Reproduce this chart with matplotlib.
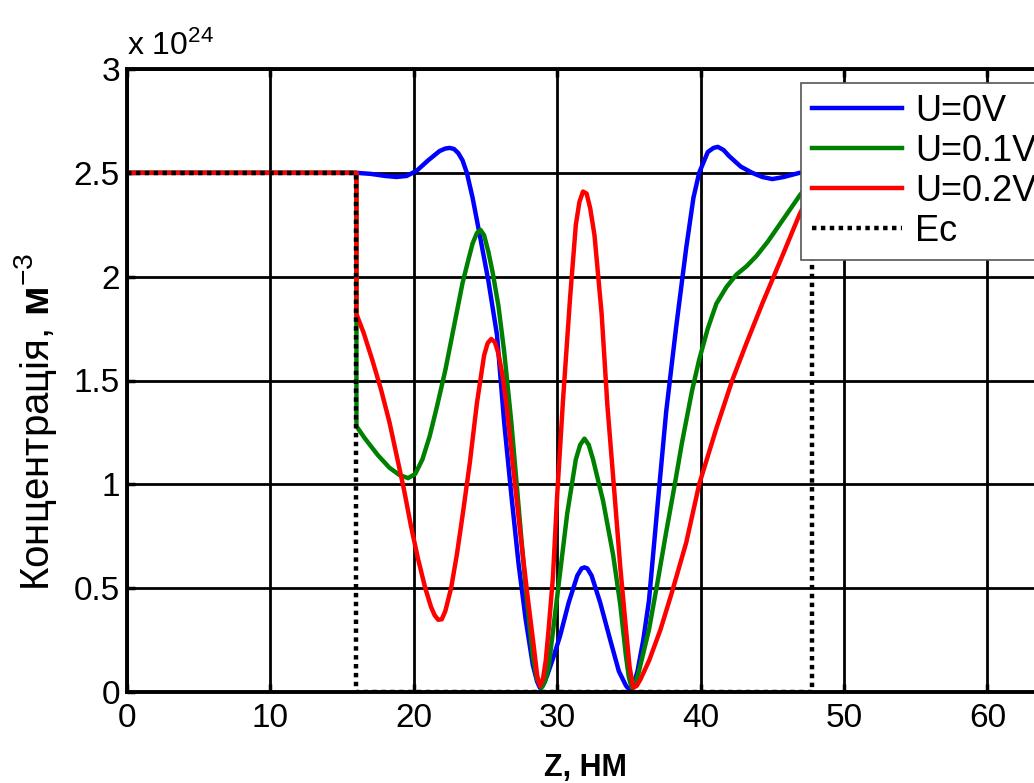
import matplotlib
matplotlib.use('Agg')
from matplotlib import pyplot as plt

plt.rcParams['font.family'] = ['Liberation Sans', 'DejaVu Sans']
plt.rcParams['mathtext.fontset'] = 'custom'
plt.rcParams['mathtext.rm'] = 'Liberation Sans'
plt.rcParams['mathtext.it'] = 'Liberation Sans:italic'
plt.rcParams['mathtext.bf'] = 'Liberation Sans:bold'

# concentration in units of 1e24 m^-3, z in nm
z_u0 = [0, 16, 17, 18, 18.8, 19.5, 20.2, 21, 21.8, 22.2, 22.5, 22.8, 23.1, 23.4,
        23.7, 24.1, 24.6, 25.2, 25.8, 26.3, 26.8, 27.3, 27.8, 28.3, 28.6, 28.8,
        29.0, 29.3, 29.7, 30.2, 30.8, 31.4, 31.7, 31.9, 32.1, 32.4, 33.0, 33.7,
        34.3, 34.8, 35.05, 35.3, 35.6, 36.0, 36.4, 37.0, 37.6, 38.3, 39.0, 39.5,
        39.9, 40.5, 40.9, 41.2, 41.6, 42.0, 42.8, 43.6, 44.3, 45.0, 45.8, 46.9,
        48, 64]
n_u0 = [2.5, 2.5, 2.495, 2.485, 2.48, 2.485, 2.51, 2.56, 2.605, 2.617, 2.62,
        2.615, 2.595, 2.56, 2.5, 2.38, 2.2, 1.98, 1.72, 1.30, 0.95, 0.62, 0.35,
        0.13, 0.05, 0.02, 0.03, 0.08, 0.16, 0.27, 0.43, 0.56, 0.595, 0.6, 0.595,
        0.56, 0.43, 0.25, 0.1, 0.03, 0.01, 0.03, 0.1, 0.25, 0.44, 0.9, 1.35,
        1.76, 2.14, 2.38, 2.5, 2.6, 2.62, 2.625, 2.61, 2.58, 2.53, 2.5, 2.48,
        2.47, 2.48, 2.5, 2.5, 2.5]

z_u1 = [0, 16, 16, 16.6, 17.5, 18.3, 19.0, 19.6, 20.1, 20.6, 21.1, 21.6, 22.2,
        22.8, 23.4, 23.8, 24.1, 24.4, 24.65, 24.9, 25.2, 25.5, 25.9, 26.3, 26.8,
        27.3, 27.8, 28.3, 28.6, 28.9, 29.15, 29.4, 30.0, 30.7, 31.3, 31.6, 31.9,
        32.2, 32.5, 33.2, 33.9, 34.4, 34.8, 35.0, 35.2, 35.45, 35.7, 36.4, 37.0,
        37.6, 38.2, 38.7, 39.4, 39.9, 40.5, 41.1, 41.8, 42.5, 43.2, 43.9, 44.7,
        45.5, 46.2, 46.9, 47.8, 47.8, 64]
n_u1 = [2.5, 2.5, 1.28, 1.22, 1.14, 1.08, 1.045, 1.03, 1.05, 1.12, 1.23, 1.37,
        1.55, 1.76, 1.97, 2.08, 2.16, 2.21, 2.225, 2.2, 2.12, 2.02, 1.86, 1.64,
        1.30, 0.9, 0.5, 0.17, 0.06, 0.02, 0.05, 0.12, 0.46, 0.86, 1.12, 1.19,
        1.22, 1.19, 1.12, 0.92, 0.66, 0.42, 0.17, 0.07, 0.02, 0.04, 0.1, 0.3,
        0.53, 0.77, 1.0, 1.2, 1.45, 1.6, 1.75, 1.87, 1.95, 2.01, 2.05, 2.1,
        2.17, 2.25, 2.32, 2.39, 2.47, 2.5, 2.5]

z_u2 = [0, 16, 16, 16.5, 17.1, 17.7, 18.3, 18.8, 19.3, 19.8, 20.3, 20.8, 21.2,
        21.45, 21.7, 21.95, 22.2, 22.6, 23.0, 23.4, 23.9, 24.4, 24.9, 25.15,
        25.4, 25.65, 25.9, 26.2, 26.5, 26.9, 27.4, 27.9, 28.4, 28.6, 28.8, 29.0,
        29.2, 29.4, 29.7, 30.0, 30.4, 30.9, 31.3, 31.55, 31.8, 32.05, 32.3,
        32.6, 33.1, 33.5, 34.0, 34.4, 34.8, 35.05, 35.3, 35.55, 35.8, 36.4,
        37.2, 38.0, 39.0, 39.9, 41.1, 42.2, 43.2, 44.3, 45.7, 46.9, 47.8, 47.8,
        64]
n_u2 = [2.5, 2.5, 1.82, 1.73, 1.6, 1.46, 1.3, 1.14, 0.98, 0.8, 0.64, 0.5, 0.41,
        0.37, 0.348, 0.35, 0.39, 0.5, 0.66, 0.85, 1.1, 1.39, 1.62, 1.68, 1.70,
        1.685, 1.63, 1.52, 1.36, 1.1, 0.78, 0.48, 0.2, 0.08, 0.03, 0.06, 0.15,
        0.3, 0.55, 0.95, 1.4, 1.9, 2.25, 2.36, 2.41, 2.4, 2.33, 2.2, 1.82, 1.38,
        0.95, 0.6, 0.3, 0.12, 0.02, 0.03, 0.06, 0.15, 0.3, 0.48, 0.72, 1.0,
        1.27, 1.5, 1.68, 1.87, 2.1, 2.3, 2.42, 2.5, 2.5]

z_ec = [0, 16, 16, 47.8, 47.8, 64]
n_ec = [2.5, 2.5, 0, 0, 2.5, 2.5]

labels = ['U=0V', 'U=0.1V', 'U=0.2V', 'Ec']

fig = plt.figure(figsize=(10.34, 7.83), dpi=100)
ax = fig.add_axes([127 / 1034, 1 - 692 / 783, 64 * 14.34 / 1034, 623 / 783])

ax.plot(z_ec, n_ec, color='black', linestyle=(0, (1, 1)), linewidth=3.2, label=labels[3], zorder=3)
ax.plot(z_u0, n_u0, color='#0000ff', linewidth=3.2, label=labels[0], zorder=2)
ax.plot(z_u1, n_u1, color='#008000', linewidth=3.2, label=labels[1], zorder=2)
ax.plot(z_u2, n_u2, color='#ff0000', linewidth=3.2, label=labels[2], zorder=2)

ax.set_xlim(0, 64)
ax.set_ylim(0, 3)
ax.set_xticks([0, 10, 20, 30, 40, 50, 60])
ax.set_yticks([0, 0.5, 1, 1.5, 2, 2.5, 3])
ax.set_yticklabels(['0', '0.5', '1', '1.5', '2', '2.5', '3'])
ax.grid(True, color='black', linewidth=2.0, linestyle='-')
ax.set_axisbelow(True)
ax.tick_params(direction='in', length=6, width=2.5, labelsize=24, pad=8,
               top=True, right=True)
ax.tick_params(axis='y', pad=5)
for s in ax.spines.values():
    s.set_linewidth(2.8)

ax.set_xlabel('Z, НМ', fontsize=22, fontweight='bold', va='baseline')
ax.xaxis.set_label_coords(0.5, -0.1348)
ax.set_ylabel(r'Концентрація, $\mathbf{м}^{-3}$', fontsize=29)
ax.yaxis.set_label_coords(-0.074, 0.433)
ax.text(0.0, 1.012, r'x 10$^{24}$', transform=ax.transAxes, fontsize=23,
        ha='left', va='bottom')

handles, labs = ax.get_legend_handles_labels()
order = [1, 2, 3, 0]
leg = fig.legend([handles[i] for i in order], [labs[i] for i in order],
                 loc='upper left', bbox_to_anchor=(801 / 1034, 1 - 83 / 783),
                 borderaxespad=0, fontsize=26, fancybox=False, framealpha=1,
                 edgecolor='#555555', handlelength=2.5, handletextpad=0.35,
                 labelspacing=0.14, borderpad=0.3)
leg.get_frame().set_linewidth(1.2)

fig.savefig('out.png', dpi=100)
